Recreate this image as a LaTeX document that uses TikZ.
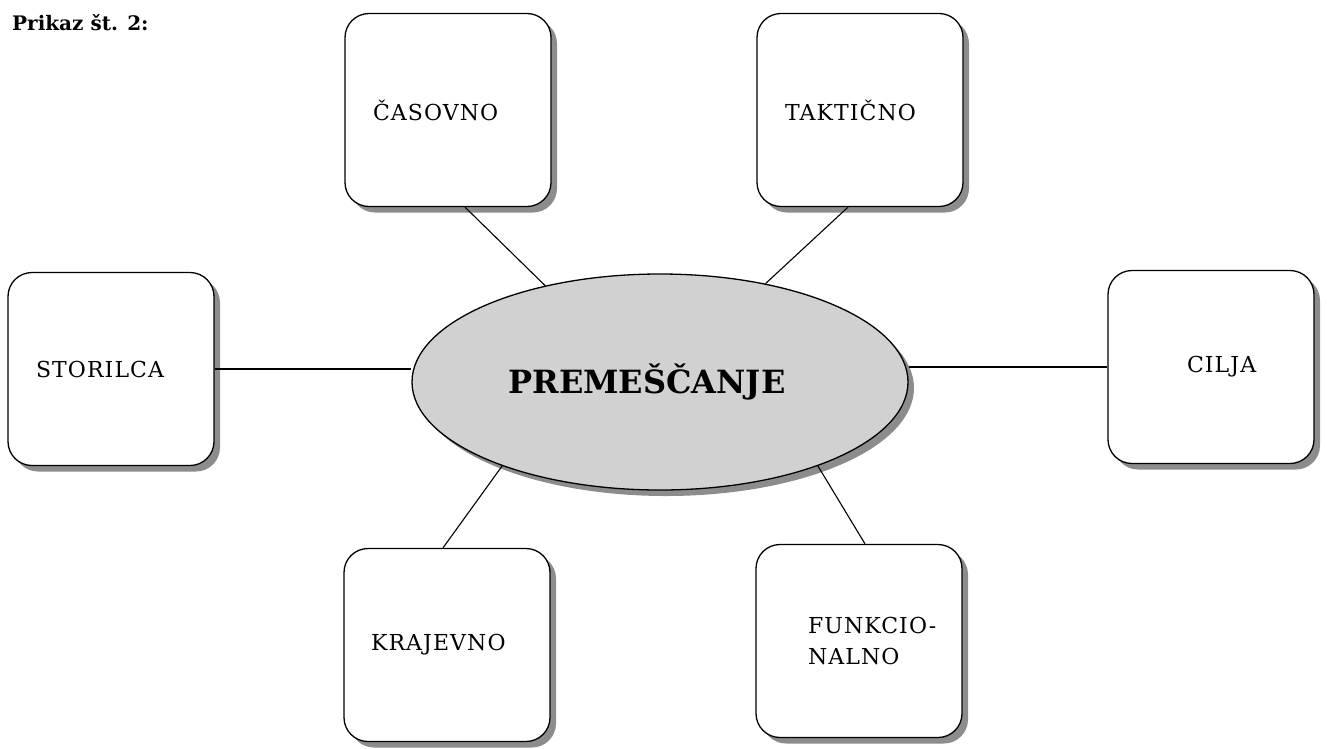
\documentclass[tikz,border=0pt]{standalone}
\usepackage{fontspec}
\setmainfont{DejaVu Serif}
\newfontfamily\boxfont[LetterSpace=5]{DejaVu Serif}
\usetikzlibrary{shapes.geometric,shadows,calc}
\tikzset{
  box/.style={draw=black, line width=1.3pt, rounded corners=24pt, fill=white,
    minimum width=206pt, minimum height=193pt, inner xsep=0pt, inner ysep=0pt,
    align=left, text width=#1,
    font=\boxfont\fontsize{22}{31}\selectfont,
    drop shadow={shadow xshift=6pt, shadow yshift=-6pt, fill=black!45, opacity=1}},
  conn/.style={draw=black, line width=1.1pt},
  center/.style={ellipse, draw=black, line width=1.3pt, fill=black!18,
    minimum width=496pt, minimum height=216pt, inner sep=0pt,
    font=\bfseries\fontsize{32}{38}\selectfont,
    drop shadow={shadow xshift=6pt, shadow yshift=-6pt, fill=black!45, opacity=1}},
  title/.style={font=\bfseries\fontsize{20}{24}\selectfont, inner sep=0pt}
}
\begin{document}
\begin{tikzpicture}[x=1pt,y=-1pt]
\useasboundingbox (0,0) rectangle (1327,748);
\node[title, anchor=base west] (tit) at (12,30) {Prikaz št. 2:};
\node[box=150pt] (cas) at (448,110) {ČASOVNO};
\node[box=150pt] (tak) at (860,110) {TAKTIČNO};
\node[box=150pt] (sto) at (111,369) {STORILCA};
\node[box=48pt] (cil) at (1211,367) {CILJA};
\node[box=152pt] (kra) at (447,645) {KRAJEVNO};
\node[box=102pt] (fun) at (859,641) {\mbox{FUNKCIO-}\\NALNO};
\node[center] (ell) at (660,382) {\hspace*{-26pt}\raisebox{-6pt}{PREMEŠČANJE}};
\draw[conn] ($(cas.south)+(17,0)$) -- (ell.140);
\draw[conn] ($(tak.south)+(-12,0)$) -- (ell.43);
\draw[conn] (sto.east) -- (sto.east -| ell.west);
\draw[conn] (ell.east |- cil.west) -- (cil.west);
\draw[conn] (ell.208) -- ($(kra.north)+(-4,0)$);
\draw[conn] (ell.332) -- ($(fun.north)+(6,0)$);
\end{tikzpicture}
\end{document}
